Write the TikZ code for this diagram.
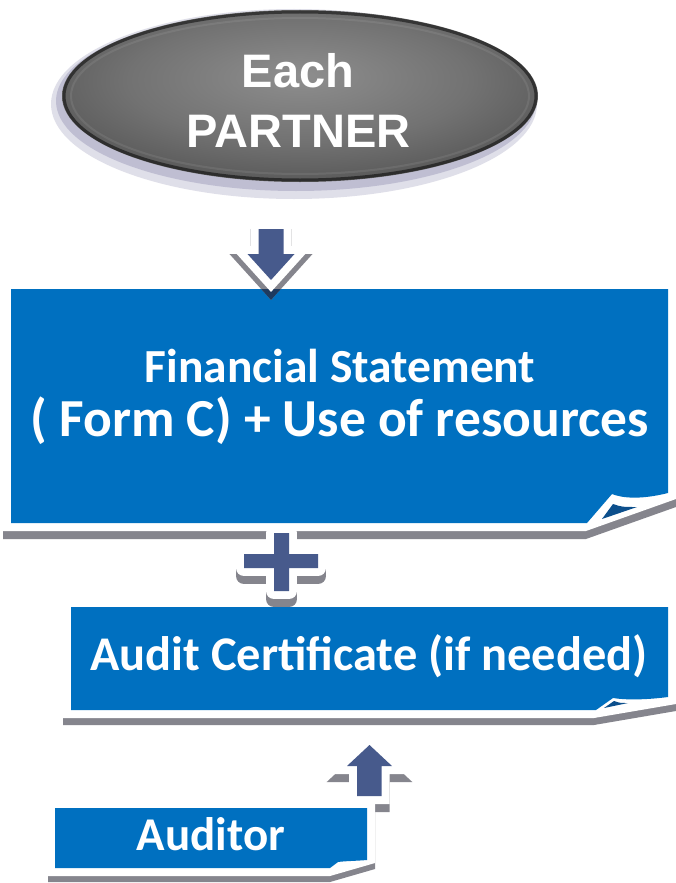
\documentclass[tikz,border=0pt]{standalone}
\usepackage{fontspec}
\setmainfont{Carlito}
\newfontfamily\ellfont{Liberation Sans}
\definecolor{boxblue}{HTML}{0070C0}
\definecolor{foldblue}{HTML}{0C4F8C}
\definecolor{arrowblue}{HTML}{475A8C}
\definecolor{shadowgray}{HTML}{85858D}
\definecolor{halo}{HTML}{A6A4C0}
\definecolor{navyshadow}{HTML}{1E3A5F}
\definecolor{ellc0}{HTML}{8E8E8E}
\definecolor{ellc1}{HTML}{727272}
\definecolor{ellc2}{HTML}{4A4A4A}
\definecolor{ellc3}{HTML}{2C2C2C}
\definecolor{ellc4}{HTML}{121212}
\pgfdeclareradialshading{ellshade}{\pgfpoint{0bp}{6bp}}{%
 color(0bp)=(ellc0); color(18bp)=(ellc1); color(36bp)=(ellc2); color(46bp)=(ellc3); color(52bp)=(ellc4); color(80bp)=(ellc4)}
\tikzset{
 boxtext/.style={text=white, font=\bfseries\fontsize{47}{53}\selectfont, anchor=base, inner sep=0pt},
 elltext/.style={text=white, font=\ellfont\bfseries\fontsize{47}{50}\selectfont, anchor=base, inner sep=0pt},
 shadowshape/.style={fill=shadowgray, draw=shadowgray, line width=16pt},
 outlineshape/.style={fill=white, draw=white, line width=16pt},
 blockarrow/.style={fill=arrowblue},
 bluebox/.style={fill=boxblue},
 foldback/.style={fill=foldblue},
}
\begin{document}
\begin{tikzpicture}[x=1pt, y=-1pt]
\useasboundingbox (0,0) rectangle (675,883);
\fill[white] (0,0) rectangle (675,883);

% ---------- ellipse "Each PARTNER"
\fill[halo, opacity=0.35] (294,104) ellipse [x radius=243pt, y radius=95pt];
\fill[halo, opacity=0.55] (296,101) ellipse [x radius=240pt, y radius=90pt];
\shade[shading=ellshade] (300,96) ellipse [x radius=238pt, y radius=86pt];
\draw[black, opacity=0.5, line width=3pt] (300,96) ellipse [x radius=236pt, y radius=84pt];
\draw[white, opacity=0.08, line width=2pt] (300,96) ellipse [x radius=229pt, y radius=78pt];
\node[elltext] (each) at (298,88) {Each};
\node[elltext] (partner) at (298.5,147) {PARTNER};

% ---------- big box
\fill[shadowgray] (3,289) -- (3,539) -- (586,539) -- (676,507) -- (676,289) -- cycle;
\fill[white] (3,281) -- (3,531) -- (586,531) -- (676,499) -- (676,281) -- cycle;
\fill[bluebox] (11,289) -- (668,289) -- (668,493) .. controls (640,500) and (622,498) .. (612,494) -- (587,523) -- (11,523) -- cycle;
\fill[foldback] (602,519) -- (613,504) .. controls (622,507) .. (637,507) -- cycle;

% ---------- down arrow
\begin{scope}[shift={(0,8)}]
\filldraw[shadowshape] (258.5,229) -- (283.5,229) -- (283.5,254) -- (294.5,254) -- (271,280) -- (247.5,254) -- (258.5,254) -- cycle;
\end{scope}
\begin{scope}
\clip (11,289) rectangle (668,523);
\begin{scope}[shift={(0,8)}]
\filldraw[shadowshape, fill=navyshadow, draw=navyshadow] (258.5,229) -- (283.5,229) -- (283.5,254) -- (294.5,254) -- (271,280) -- (247.5,254) -- (258.5,254) -- cycle;
\end{scope}
\end{scope}
\filldraw[outlineshape] (258.5,229) -- (283.5,229) -- (283.5,254) -- (294.5,254) -- (271,280) -- (247.5,254) -- (258.5,254) -- cycle;
\fill[blockarrow] (258.5,229) -- (283.5,229) -- (283.5,254) -- (294.5,254) -- (271,280) -- (247.5,254) -- (258.5,254) -- cycle;

% ---------- audit certificate box
\fill[shadowgray] (63,607) -- (63,725) -- (594,725) -- (676,711) -- (676,607) -- cycle;
\fill[white] (63,599) -- (63,718) -- (594,718) -- (676,704) -- (676,599) -- cycle;
\fill[bluebox] (71,607) -- (668,607) -- (668,697) .. controls (645,700) and (625,700) .. (613,698) -- (596,710) -- (71,710) -- cycle;
\fill[foldback] (604,708) -- (614,701) .. controls (620,703) .. (628,703) -- cycle;

% ---------- plus
\begin{scope}[shift={(0,8)}]
\filldraw[shadowshape, line join=round] (274,533) -- (289,533) -- (289,554) -- (318,554) -- (318,568) -- (289,568) -- (289,591) -- (274,591) -- (274,568) -- (244,568) -- (244,554) -- (274,554) -- cycle;
\end{scope}
\filldraw[outlineshape, line join=round] (274,533) -- (289,533) -- (289,554) -- (318,554) -- (318,568) -- (289,568) -- (289,591) -- (274,591) -- (274,568) -- (244,568) -- (244,554) -- (274,554) -- cycle;
\fill[blockarrow] (274,533) -- (289,533) -- (289,554) -- (318,554) -- (318,568) -- (289,568) -- (289,591) -- (274,591) -- (274,568) -- (244,568) -- (244,554) -- (274,554) -- cycle;

% ---------- up arrow
\begin{scope}[shift={(0,8)}]
\filldraw[shadowshape] (369.5,745) -- (392,766) -- (381.5,766) -- (381.5,796) -- (357,796) -- (357,766) -- (347,766) -- cycle;
\end{scope}
\filldraw[outlineshape] (369.5,745) -- (392,766) -- (381.5,766) -- (381.5,796) -- (357,796) -- (357,766) -- (347,766) -- cycle;
\fill[blockarrow] (369.5,745) -- (392,766) -- (381.5,766) -- (381.5,796) -- (357,796) -- (357,766) -- (347,766) -- cycle;

% ---------- auditor box
\fill[shadowgray] (48,806) -- (48,882) -- (330,882) -- (375,869) -- (375,806) -- cycle;
\fill[white] (48,800) -- (48,876) -- (330,876) -- (375,863) -- (375,800) -- cycle;
\fill[bluebox] (55,808) -- (367,808) -- (367,860) .. controls (355,861) and (345,861) .. (338,862) -- (330,868) -- (55,868) -- cycle;

% ---------- texts
\node[boxtext, font=\bfseries\fontsize{47.5}{53}\selectfont] (fs1) at (340,382) {Financial Statement};
\node[boxtext, font=\bfseries\fontsize{53.5}{58}\selectfont] (fs2) at (340,436) {( Form C) + Use of resources};
\node[boxtext, font=\bfseries\fontsize{48.4}{53}\selectfont] (audit) at (369,670) {Audit Certificate (if needed)};
\node[boxtext] (auditor) at (211,850) {Auditor};
\end{tikzpicture}
\end{document}
